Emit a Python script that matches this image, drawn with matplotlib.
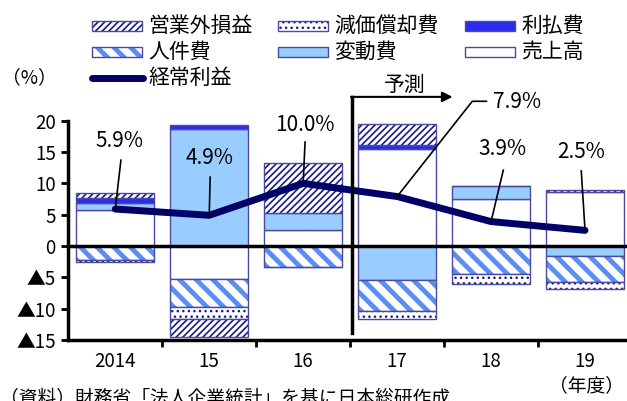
import numpy as np
import matplotlib
matplotlib.use("Agg")
import matplotlib.pyplot as plt
from matplotlib.patches import Rectangle
from matplotlib.lines import Line2D

plt.rcParams['font.family'] = ['Noto Sans CJK JP', 'DejaVu Sans']

# 経常利益の増減要因（前年比、%）
years = ['2014', '15', '16', '17', '18', '19']
uriage = [5.8, -5.3, 2.5, 15.5, 7.5, 8.7]       # 売上高
hendo = [1.0, 18.7, 2.7, -5.4, 2.0, -1.6]       # 変動費
jinken = [-2.3, -4.5, -3.3, -4.9, -4.5, -4.1]   # 人件費
genka = [-0.3, -1.9, -0.1, -1.4, -1.5, -1.1]    # 減価償却費
riharai = [0.8, 0.6, 0.0, 0.7, 0.0, 0.0]        # 利払費
eigyogai = [0.8, -2.9, 8.1, 3.3, 0.1, 0.3]      # 営業外損益
keijo = [5.9, 4.9, 10.0, 7.9, 3.9, 2.5]         # 経常利益
keijo_labels = ['5.9%', '4.9%', '10.0%', '7.9%', '3.9%', '2.5%']

NAVY = '#000066'
EDGE = '#4a4aa0'
STRIPE = '#5b8ef5'

# style per component: (facecolor, hatch, hatch color, hatch linewidth)
styles = {
    '売上高': ('white', None, None, 1.0),
    '変動費': ('#99ccff', None, None, 1.0),
    '人件費': ('white', '\\\\', STRIPE, 3.5),
    '減価償却費': ('white', '...', '#1a1a80', 1.0),
    '利払費': ('#2b2bf0', None, None, 1.0),
    '営業外損益': ('white', '/////', '#1a1a80', 1.2),
}
series = [('売上高', uriage), ('変動費', hendo), ('人件費', jinken),
          ('減価償却費', genka), ('利払費', riharai), ('営業外損益', eigyogai)]

fig = plt.figure(figsize=(6.27, 4.01), dpi=100)
W, H = 627.0, 401.0
ax = fig.add_axes([68.3 / W, 1 - 340 / H, (632 - 68.3) / W, (340 - 120.7) / H])

x = np.arange(len(years))
width = 0.83
pos_base = np.zeros(len(years))
neg_base = np.zeros(len(years))


def hatched_bar(axis, xs, heights, bottoms, name, **kw):
    face, hatch, hcolor, hlw = styles[name]
    with plt.rc_context({'hatch.linewidth': hlw}):
        if hatch:
            bars = axis.bar(xs, heights, width, bottom=bottoms, color=face,
                            edgecolor=hcolor, hatch=hatch, linewidth=0, **kw)
            for b in bars:
                if hasattr(b, 'set_hatch_linewidth'):
                    b.set_hatch_linewidth(hlw)
            axis.bar(xs, heights, width, bottom=bottoms, fill=False,
                     edgecolor=EDGE, linewidth=1.0, **kw)
        else:
            axis.bar(xs, heights, width, bottom=bottoms, color=face,
                     edgecolor=EDGE, linewidth=1.0, **kw)


for name, vals in series:
    vals = np.array(vals, dtype=float)
    bottoms = np.where(vals >= 0, pos_base, neg_base)
    keep = vals != 0
    hatched_bar(ax, x[keep], vals[keep], bottoms[keep], name, zorder=2)
    pos_base += np.where(vals > 0, vals, 0)
    neg_base += np.where(vals < 0, vals, 0)

ax.axhline(0, color='black', lw=2.5, zorder=3)

# 経常利益
ax.plot(x, keijo, color=NAVY, lw=5, solid_capstyle='round',
        solid_joinstyle='round', zorder=5)

# labels with leader lines
label_pos = [(0.05, 16.7), (1.0, 14.0), (2.02, 19.3), (4.28, 23.0), (4.12, 15.5), (4.96, 15.0)]
leader_start = [(0.06, 13.7), (1.01, 11.0), (2.02, 16.6), None, (4.13, 12.1), (4.96, 12.0)]
for i, (lab, (tx, ty)) in enumerate(zip(keijo_labels, label_pos)):
    ax.text(tx, ty, lab, ha='center', va='center', fontsize=15, zorder=6, clip_on=False)
    if leader_start[i] is not None:
        sx, sy = leader_start[i]
        ax.plot([sx, x[i]], [sy, keijo[i]], color='black', lw=1.2, zorder=6)
# bent leader for 2017
ax.plot([x[3], 3.80, 3.95], [keijo[3], 23.1, 23.1], color='black', lw=1.2,
        zorder=6, clip_on=False)

# forecast divider and arrow
ax.plot([2.525, 2.525], [-13.9, 23.8], color='black', lw=2.5, zorder=6, clip_on=False)
ax.annotate('', xy=(3.59, 23.8), xytext=(2.51, 23.8),
            arrowprops=dict(arrowstyle='-|>', color='black', lw=1.5,
                            mutation_scale=15, shrinkA=0, shrinkB=0),
            annotation_clip=False, zorder=6)
ax.text(3.08, 25.7, '予測', ha='center', va='center', fontsize=15, clip_on=False)

# axes
ax.set_xlim(-0.5, 5.5)
ax.set_ylim(-15, 20)
ax.set_yticks([20, 15, 10, 5, 0, -5, -10, -15])
ax.set_yticklabels(['20', '15', '10', '5', '0', '▲5', '▲10', '▲15'], fontsize=13.5)
ax.set_xticks(x)
ax.set_xticklabels(years, fontsize=13.5)
ax.set_xticks(np.arange(0.5, 5.5, 1.0), minor=True)
ax.tick_params(axis='x', which='major', length=0, pad=8)
ax.tick_params(axis='x', which='minor', direction='out', length=5, width=2)
ax.tick_params(axis='y', direction='out', length=5, width=2, pad=4)
for s in ['top', 'right']:
    ax.spines[s].set_visible(False)
for s in ['left', 'bottom']:
    ax.spines[s].set_linewidth(2.5)

# legend drawn in figure pixels
def fx(px):
    return px / W


def fy(py):
    return 1 - py / H


legend_items = [
    ('営業外損益', 92, 26), ('減価償却費', 278, 26), ('利払費', 465, 26),
    ('人件費', 92, 52), ('変動費', 278, 52), ('売上高', 465, 52),
]
for name, lx, ly in legend_items:
    face, hatch, hcolor, hlw = styles[name]
    with plt.rc_context({'hatch.linewidth': hlw}):
        if hatch:
            r = Rectangle((fx(lx), fy(ly + 5)), 50 / W, 10 / H, transform=fig.transFigure,
                          facecolor=face, edgecolor=hcolor, hatch=hatch, linewidth=0)
            if hasattr(r, 'set_hatch_linewidth'):
                r.set_hatch_linewidth(hlw)
            fig.add_artist(r)
            fig.add_artist(Rectangle((fx(lx), fy(ly + 5)), 50 / W, 10 / H,
                                     transform=fig.transFigure, fill=False,
                                     edgecolor=EDGE, linewidth=1.0))
        else:
            fig.add_artist(Rectangle((fx(lx), fy(ly + 5)), 50 / W, 10 / H,
                                     transform=fig.transFigure, facecolor=face,
                                     edgecolor=EDGE, linewidth=1.0))
    fig.text(fx(lx + 56), fy(ly), name, ha='left', va='center', fontsize=15)

fig.add_artist(Line2D([fx(92), fx(143)], [fy(78), fy(78)], color=NAVY, lw=5,
                      solid_capstyle='round'))
fig.text(fx(148), fy(78), '経常利益', ha='left', va='center', fontsize=15)
fig.text(fx(2), fy(78), '（%）', ha='left', va='center', fontsize=13.5)

fig.text(fx(624), fy(386), '（年度）', ha='right', va='center', fontsize=13.5)
fig.text(fx(0), fy(388), '（資料）財務省「法人企業統計」を基に日本総研作成',
         ha='left', va='top', fontsize=13.5)

fig.savefig('out.png', dpi=100)
